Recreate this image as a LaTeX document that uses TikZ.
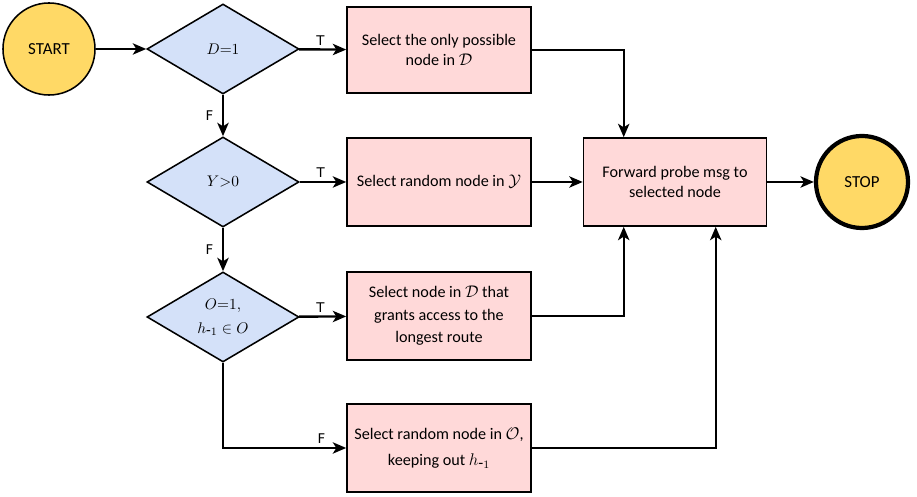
\documentclass[tikz,border=0pt]{standalone}
\usepackage{fontspec}
\setmainfont{Carlito}
\newfontfamily\labelfont{DejaVu Sans}
\usetikzlibrary{shapes.geometric,arrows.meta}

\definecolor{termfill}{HTML}{FFD966}
\definecolor{decfill}{HTML}{D4E1F9}
\definecolor{actfill}{HTML}{FFD9D9}

\tikzset{
	flow/.style={line width=1.7pt, -{Stealth[length=9.5pt,width=8pt,inset=2.5pt]}},
	term/.style={circle, draw, line width=1.1pt, fill=termfill, minimum size=2.3cm, inner sep=0pt, font=\fontsize{12}{13}\selectfont},
	decision/.style={diamond, draw, line width=1.1pt, fill=decfill, minimum width=3.8cm, minimum height=2.25cm, inner sep=0pt, align=center, font=\fontsize{11}{17}\selectfont},
	action/.style={rectangle, draw, line width=1.1pt, fill=actfill, minimum width=4.6cm, minimum height=2.2cm, align=center, font=\fontsize{11.5}{14}\selectfont},
	tf/.style={font=\labelfont\fontsize{9.5}{10}\selectfont, inner sep=2pt}
}

\begin{document}
\begin{tikzpicture}[x=0.025cm, y=-0.025cm]
	\useasboundingbox (0,0) rectangle (917,497);
	
	% start / stop
	\node[term] (start) at (49,49) {START};
	\node[term, line width=3pt] (stop) at (862,182) {STOP};
	
	% decisions
	\node[decision] (d1) at (223,49) {$D{=}1$};
	\node[decision] (d2) at (223,182) {$Y{>}0$};
	\node[decision] (d3) at (223,317) {$O{=}1,$\\$h_{\textrm{-}1}\in O$};
	
	% actions
	\node[action, minimum height=2.15cm] (b1) at (439,50) {Select the only possible\\node in $\mathcal{D}$};
	\node[action] (b2) at (439,182) {Select random node in $\mathcal{Y}$};
	\node[action] (b3) at (439,316) {Select node in $\mathcal{D}$ that\\[2pt]grants access to the\\[2pt]longest route};
	\node[action] (b4) at (439,448) {Select random node in $\mathcal{O}$,\\[5pt]keeping out $h_{\textrm{-}1}$};
	\node[action, minimum width=4.575cm] (fw) at (675,182) {Forward probe msg to\\selected node};
	
	% entry points of forward box
	\coordinate (fwa) at ([xshift=1.025cm]fw.north west);
	\coordinate (fwb) at ([xshift=1.025cm]fw.south west);
	\coordinate (fwc) at ([xshift=3.325cm]fw.south west);
	
	% decision chain
	\draw[flow] (start) -- (d1);
	\draw[flow] (d1) -- node[tf, above, pos=0.45] {T} (b1);
	\draw[flow] (d1) -- node[tf, left=4pt] {F} (d2);
	\draw[flow] (d2) -- node[tf, above, pos=0.45] {T} (b2);
	\draw[flow] (d2) -- node[tf, left=4pt] {F} (d3);
	\draw[flow] (d3) -- node[tf, above, pos=0.45] {T} (b3);
	\draw[flow] (d3.south) |- node[tf, above, pos=0.9] {F} (b4.west);
	
	% into forward box
	\draw[flow] (b1.east) -| (fwa);
	\draw[flow] (b2) -- (fw);
	\draw[flow] (b3.east) -| (fwb);
	\draw[flow] (b4.east) -| (fwc);
	\draw[flow] (fw) -- (stop);
	
\end{tikzpicture}
\end{document}
